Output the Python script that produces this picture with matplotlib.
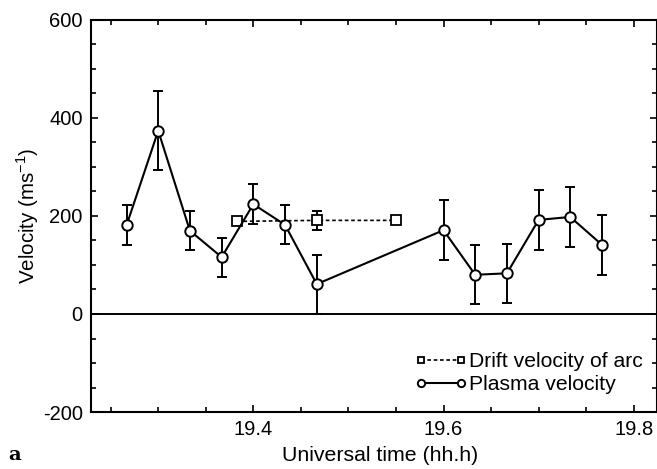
import numpy as np
import matplotlib
matplotlib.use('Agg')
import matplotlib.pyplot as plt
from matplotlib.ticker import MultipleLocator, FixedLocator

plt.rcParams['font.family'] = ['Liberation Sans', 'DejaVu Sans']
plt.rcParams['axes.unicode_minus'] = False

# plasma velocity
t_plasma = [19.2667, 19.3000, 19.3333, 19.3667, 19.4000, 19.4333, 19.4667,
            19.6000, 19.6333, 19.6667, 19.7000, 19.7333, 19.7667]
v_plasma = [181, 374, 170, 116, 224, 182, 61,
            171, 80, 83, 192, 198, 141]
e_plasma = [41, 81, 40, 40, 41, 40, 60,
            61, 60, 60, 61, 61, 61]

# drift velocity of arc
t_drift = [19.383, 19.467, 19.550]
v_drift = [189, 191, 191]
e_drift = [0, 20, 0]

fig = plt.figure(figsize=(6.57, 4.69), dpi=100)
ax = fig.add_axes([0.1385, 0.1215, 0.8615, 0.836])

ax.axhline(0, color='black', lw=1.4, zorder=1)

ax.errorbar(t_drift, v_drift, yerr=[e if e > 0 else np.nan for e in e_drift],
            fmt='none', ecolor='black', elinewidth=1.4, capsize=3.5, capthick=1.4, zorder=2)
ax.plot(t_drift, v_drift, color='black', ls=(0, (2.2, 1.6)), lw=1.2,
        marker='s', ms=6.5, mfc='white', mec='black', mew=1.3,
        label='Drift velocity of arc', zorder=3)

ax.errorbar(t_plasma, v_plasma, yerr=e_plasma, fmt='none', ecolor='black',
            elinewidth=1.4, capsize=3.5, capthick=1.4, zorder=2)
ax.plot(t_plasma, v_plasma, color='black', lw=1.5,
        marker='o', ms=7.5, mfc='white', mec='black', mew=1.4,
        label='Plasma velocity', zorder=4)

ax.set_xlim(19.2293, 19.8245)
ax.set_ylim(-200, 600)
ax.xaxis.set_major_locator(FixedLocator([19.4, 19.6, 19.8]))
ax.xaxis.set_minor_locator(MultipleLocator(0.05))
ax.yaxis.set_major_locator(MultipleLocator(200))
ax.yaxis.set_minor_locator(MultipleLocator(50))
ax.tick_params(which='both', direction='in', top=True, right=True, width=1.2,
               labelsize=14.5)
ax.tick_params(which='major', length=5, pad=6)
ax.tick_params(which='minor', length=3.5)
for s in ax.spines.values():
    s.set_linewidth(1.5)

ax.set_xlabel('Universal time (hh.h)', fontsize=15.3, labelpad=5)
ax.xaxis.label.set_x(0.511)
ax.set_ylabel('Velocity (ms$^{\\mathregular{-1}}$)', fontsize=14.8, labelpad=1)

leg = ax.legend(loc='lower right', bbox_to_anchor=(0.975, 0.045), frameon=False,
                fontsize=15.2, numpoints=2, handlelength=2.5, handletextpad=0.1,
                labelspacing=0.2, borderpad=0.0, borderaxespad=0.0, markerscale=0.7)

fig.text(0.012, 0.02, 'a', fontsize=14, fontweight='bold', family='DejaVu Serif')

fig.savefig('out.png', dpi=100)
